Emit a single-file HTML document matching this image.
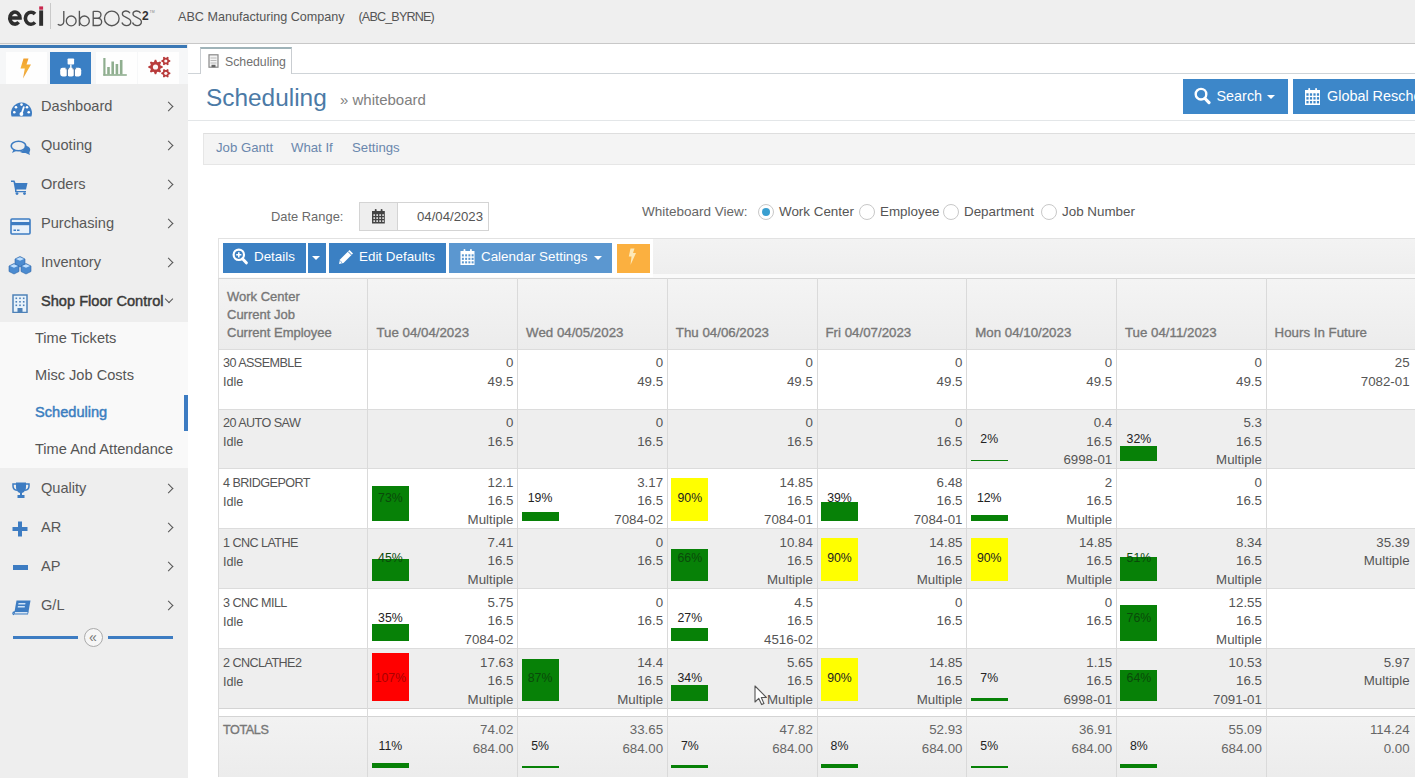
<!DOCTYPE html>
<html><head><meta charset="utf-8">
<style>
*{box-sizing:border-box;margin:0;padding:0}
html,body{width:1415px;height:778px;overflow:hidden;background:#fff;font-family:"Liberation Sans",sans-serif;color:#555}
.abs{position:absolute}
#top{position:absolute;left:0;top:0;width:1415px;height:44px;background:#efefef;border-bottom:1px solid #c8c8c8}
#side{position:absolute;left:0;top:44px;width:188px;height:734px;background:#eeeeee}
#side .bluebar{position:absolute;left:0;top:1px;width:187px;height:3px;background:#3b78b5}
.ib{position:absolute;top:8px;width:41px;height:31.5px;background:#fefefe}
.mi{position:absolute;left:0;width:188px;height:39px;font-size:14.6px;color:#555}
.mi .t{position:absolute;left:41px;top:0;line-height:39px;color:#585858}
.mi .chev{position:absolute;left:164.5px;top:16px;width:7px;height:7px;border-right:1.7px solid #555;border-top:1.7px solid #555;transform:rotate(45deg)}
.mi svg{position:absolute;left:9px}
.sub{position:absolute;left:0;top:278px;width:188px;height:146px;background:#f9f9f9}
.si{position:absolute;left:35px;font-size:14.6px;color:#555;line-height:20px}
.tb{font-size:13.4px;color:#fff;line-height:16px;white-space:nowrap}
.caret{width:0;height:0;border-left:4px solid transparent;border-right:4px solid transparent;border-top:4px solid #fff}
.rad{width:16px;height:16px;border-radius:50%;border:1px solid #c8c8c8;background:#fff}
.rad i{position:absolute;left:3px;top:3px;width:8px;height:8px;border-radius:50%;background:#3a9fd0}
.rl{font-size:13.4px;color:#555;line-height:18px;white-space:nowrap}
</style></head><body>
<div id="top">
  <svg class="abs" style="left:0;top:0" width="160" height="34" viewBox="0 0 160 34">
 <g fill="none" stroke="#2e2e2e" stroke-width="3.6">
  <path d="M9.9 18 H20 A5.1 6 0 1 0 18.6 22.2"/>
  <path d="M35 14 A5.6 6 0 1 0 35 22.4"/>
 </g>
 <rect x="39.2" y="10.4" width="3.9" height="15.4" fill="#2e2e2e"/>
 <rect x="39.2" y="6.4" width="3.9" height="3.3" fill="#c8284e"/>
 <rect x="50" y="3" width="1" height="26" fill="#c9c9c9"/>
 <g fill="none" stroke="#555" stroke-width="1.35">
  <path d="M63.8 11 V21.5 A3.6 3.6 0 0 1 57.8 24.3"/>
  <circle cx="71.2" cy="20.9" r="4.9"/>
  <path d="M79.4 10.8 V25.9"/><circle cx="84.4" cy="20.9" r="4.9"/>
  <path d="M93.2 11.3 V25.5 H98 A3.6 3.6 0 0 0 98 18.2 H93.2 M93.2 18.2 H97.5 A3.45 3.45 0 0 0 97.5 11.3 H93.2"/>
  <circle cx="111.8" cy="18.4" r="7.3"/>
  <path d="M130 13.2 C129 11.2 126.8 10.9 125.6 11 C123.5 11.2 122.3 12.6 122.4 14.2 C122.6 17.6 130.8 17.2 130.8 21.8 C130.8 24.3 128.6 25.6 126.4 25.6 C124.6 25.6 122.7 24.7 121.9 22.6"/>
  <path d="M140.6 13.2 C139.6 11.2 137.4 10.9 136.2 11 C134.1 11.2 132.9 12.6 133 14.2 C133.2 17.6 141.4 17.2 141.4 21.8 C141.4 24.3 139.2 25.6 137 25.6 C135.2 25.6 133.3 24.7 132.5 22.6"/>
 </g>
 <text x="142" y="20" font-family="Liberation Sans" font-weight="bold" font-size="12" fill="#333">2</text>
 <text x="149.5" y="12.5" font-family="Liberation Sans" font-size="3.5" fill="#888">TM</text>
</svg>
<div class="abs" style="left:178px;top:10px;font-size:12.6px;color:#555;white-space:nowrap">ABC Manufacturing Company</div><div class="abs" style="left:358.5px;top:10px;font-size:12.6px;color:#555;letter-spacing:-0.85px;white-space:nowrap">(ABC_BYRNE)</div>
</div>
<div id="side">
  <div class="bluebar"></div>
  <div class="abs" style="left:0;top:4px;width:188px;height:36px;background:#f6f7f8"></div>
  <div class="ib" style="left:6px"></div>
  <div class="ib" style="left:50px;background:#3a7fc4"></div>
  <div class="ib" style="left:96px"></div>
  <div class="ib" style="left:138px"></div>
  <div class="mi" style="top:43px"><span class="t">Dashboard</span><i class="chev"></i></div>
  <div class="mi" style="top:82px"><span class="t">Quoting</span><i class="chev"></i></div>
  <div class="mi" style="top:121px"><span class="t">Orders</span><i class="chev"></i></div>
  <div class="mi" style="top:160px"><span class="t">Purchasing</span><i class="chev"></i></div>
  <div class="mi" style="top:199px"><span class="t">Inventory</span><i class="chev"></i></div>
  <div class="mi" style="top:238px"><span class="t" style="color:#3a3a3a;-webkit-text-stroke:0.45px #3a3a3a;white-space:nowrap">Shop Floor Control</span><i class="abs" style="left:166px;top:14px;width:6px;height:6px;border-right:1.3px solid #555;border-bottom:1.3px solid #555;transform:rotate(45deg)"></i></div>
  <div class="sub">
    <div class="si" style="top:6px">Time Tickets</div>
    <div class="si" style="top:43px">Misc Job Costs</div>
    <div class="si" style="top:80px;color:#3b7ec0;-webkit-text-stroke:0.45px #3b7ec0">Scheduling</div><div class="abs" style="left:184px;top:73px;width:3.5px;height:36px;background:#3d7cc2"></div>
    <div class="si" style="top:117px">Time And Attendance</div>
  </div>
  <div class="mi" style="top:425px"><span class="t">Quality</span><i class="chev"></i></div>
  <div class="mi" style="top:464px"><span class="t">AR</span><i class="chev"></i></div>
  <div class="mi" style="top:503px"><span class="t">AP</span><i class="chev"></i></div>
  <div class="mi" style="top:542px"><span class="t">G/L</span><i class="chev"></i></div>
</div>

<div id="main" class="abs" style="left:188px;top:44px;width:1227px;height:734px;background:#fff">
  <!-- tab bar -->
  <div class="abs" style="left:0;top:29px;width:1227px;height:1px;background:#cfd4d8"></div>
  <div class="abs" style="left:12px;top:3px;width:92px;height:27px;background:#fff;border:1px solid #c9cdd1;border-top:2px solid #9fb3b8;border-bottom:none"></div>
  <div class="abs" style="left:37px;top:10.5px;font-size:12.3px;color:#707070;line-height:14px;white-space:nowrap">Scheduling</div>
  <!-- title -->
  <div class="abs" style="left:18px;top:39.5px;font-size:24.4px;color:#4b7aa6;white-space:nowrap">Scheduling</div>
  <div class="abs" style="left:152px;top:47px;font-size:15px;color:#808080;white-space:nowrap">&raquo; whiteboard</div>
  <div class="abs" style="left:0;top:76px;width:1227px;height:1px;background:#e3e6e8"></div>
  <!-- buttons -->
  <div class="abs btn" style="left:994.5px;top:35px;width:105.5px;height:34.5px;background:#3d87c9"></div>
  <div class="abs btn" style="left:1104.5px;top:35px;width:130px;height:34.5px;background:#3d87c9"></div>
  <div class="abs" style="left:1028.5px;top:43px;font-size:14.4px;color:#fff;white-space:nowrap;line-height:18px">Search</div>
  <div class="abs" style="left:1139px;top:43px;font-size:14.4px;color:#fff;white-space:nowrap;line-height:18px">Global Reschedule</div>
  <!-- nav bar -->
  <div class="abs" style="left:14.5px;top:89px;width:1213px;height:32px;background:#f4f4f4;border:1px solid #e6e6e6;border-top-color:#dedede;border-right:none"></div>
  <div class="abs" style="left:28px;top:96px;font-size:13.2px;color:#6a87ad">Job Gantt</div>
  <div class="abs" style="left:103px;top:96px;font-size:13.2px;color:#6a87ad">What If</div>
  <div class="abs" style="left:164px;top:96px;font-size:13.2px;color:#6a87ad">Settings</div>
  <!-- filters -->
  <div class="abs" style="left:83px;top:165px;font-size:12.9px;color:#6a6a6a;white-space:nowrap">Date Range:</div>
  <div class="abs" style="left:171px;top:157.5px;width:130px;height:29px;border:1px solid #d4d4d4;background:#fff"></div>
  <div class="abs" style="left:171px;top:157.5px;width:39px;height:29px;border:1px solid #d4d4d4;background:#eee"></div>
  <div class="abs" style="left:229px;top:165px;font-size:13.2px;color:#555">04/04/2023</div>
  <div class="abs" style="left:454px;top:160px;font-size:13.5px;color:#666;white-space:nowrap">Whiteboard View:</div>
  
</div>

<!-- toolbar -->
<div class="abs" style="left:217.5px;top:237.5px;width:1198px;height:41px;background:#fafafa;border-top:1px solid #e2e2e2;border-left:1px solid #e2e2e2"></div>
<div class="abs" style="left:652.5px;top:238.5px;width:763px;height:35.5px;background:linear-gradient(#f3f3f3,#eeeeee)"></div>
<div class="abs" style="left:218.5px;top:238.5px;width:434px;height:38px;background:#fff"></div>
<div class="abs" style="left:223px;top:243px;width:83px;height:30px;background:#3b80c3"></div>
<div class="abs" style="left:307.5px;top:243px;width:18px;height:30px;background:#3b80c3"></div>
<div class="abs" style="left:329px;top:243px;width:117px;height:30px;background:#3b80c3"></div>
<div class="abs" style="left:449px;top:243px;width:163px;height:30px;background:#5b97d0"></div>
<div class="abs" style="left:617px;top:243.5px;width:33px;height:29.5px;background:#fbb040"></div>
<div class="abs tb" style="left:254px;top:249px">Details</div>
<div class="abs tb" style="left:359px;top:249px">Edit Defaults</div>
<div class="abs tb" style="left:481px;top:249px">Calendar Settings</div>
<div class="abs caret" style="left:312px;top:256px"></div>
<div class="abs caret" style="left:594px;top:256px"></div>

<!-- radios -->
<div class="abs rad" style="left:757.5px;top:203.5px"><i></i></div>
<div class="abs rad" style="left:858.5px;top:203.5px"></div>
<div class="abs rad" style="left:942.5px;top:203.5px"></div>
<div class="abs rad" style="left:1041px;top:203.5px"></div>
<div class="abs rl" style="left:779px;top:203px">Work Center</div>
<div class="abs rl" style="left:880px;top:203px">Employee</div>
<div class="abs rl" style="left:964px;top:203px">Department</div>
<div class="abs rl" style="left:1062px;top:203px">Job Number</div>

<!-- sidebar icons -->
<svg class="abs" style="left:10px;top:101px" width="23" height="17" viewBox="0 0 23 17">
 <path d="M1.6 15.5 A10.5 10.5 0 1 1 21.4 15.5 Z" fill="#3d7cc2"/>
 <circle cx="4.3" cy="11.2" r="1.3" fill="#fff"/><circle cx="6" cy="6.2" r="1.3" fill="#fff"/><circle cx="11.5" cy="3.6" r="1.3" fill="#fff"/>
 <circle cx="17" cy="6.2" r="1.3" fill="#fff"/><circle cx="18.7" cy="11.2" r="1.3" fill="#fff"/>
 <path d="M11.5 13 L14 5.5" stroke="#fff" stroke-width="1.8"/><circle cx="11.4" cy="13" r="1.9" fill="#fff"/>
</svg>
<svg class="abs" style="left:10px;top:140px" width="22" height="16" viewBox="0 0 22 16">
 <ellipse cx="8.5" cy="6" rx="7.3" ry="4.8" fill="none" stroke="#3d7cc2" stroke-width="1.6"/>
 <path d="M3.5 9.5 L2 13 L7 10.6" fill="#3d7cc2"/>
 <path d="M14.5 5.5 C19 6 21 8.5 20 11 C19.5 12 19 12.5 20 15 L15.5 13 C13 13.3 10 12.5 9.5 11.5 C13 11.5 15.5 9 14.5 5.5Z" fill="#3d7cc2"/>
</svg>
<svg class="abs" style="left:11px;top:179px" width="17" height="16" viewBox="0 0 17 16">
 <path d="M0 1.5 H3.5 L4.5 4 H16.5 L15 10.5 H5.5 L5.5 12 H15 V13.3 H4 L4 11 L2.5 3 H0Z" fill="#3d7cc2"/>
 <circle cx="6" cy="14.6" r="1.4" fill="#3d7cc2"/><circle cx="13.5" cy="14.6" r="1.4" fill="#3d7cc2"/>
</svg>
<svg class="abs" style="left:10px;top:217.5px" width="21" height="17" viewBox="0 0 21 17">
 <rect x="1" y="1" width="19" height="15" rx="1" fill="#e8f1fa" stroke="#3d7cc2" stroke-width="1.6"/>
 <rect x="1" y="4" width="19" height="3.2" fill="#3d7cc2"/>
 <rect x="3.5" y="11.5" width="2.5" height="1.5" fill="#3d7cc2"/><rect x="7" y="11.5" width="2.5" height="1.5" fill="#3d7cc2"/>
</svg>
<svg class="abs" style="left:8px;top:254.5px" width="24" height="20" viewBox="0 0 24 20">
 <g stroke="#2f67a8" stroke-width="0.6">
 <path d="M7 4 L12 1.5 L17 4 L17 9.5 L12 12 L7 9.5Z" fill="#4b8bd0"/>
 <path d="M1 11 L6 8.5 L11 11 L11 16.5 L6 19 L1 16.5Z" fill="#4b8bd0"/>
 <path d="M13 11 L18 8.5 L23 11 L23 16.5 L18 19 L13 16.5Z" fill="#4b8bd0"/>
 </g>
 <path d="M8 4 L12 2.2 L16 4 L12 5.8Z M2 11 L6 9.2 L10 11 L6 12.8Z M14 11 L18 9.2 L22 11 L18 12.8Z" fill="#bfe0ff"/>
</svg>
<svg class="abs" style="left:12px;top:294px" width="16" height="19" viewBox="0 0 16 19">
 <rect x="1" y="1" width="14" height="17.5" fill="#e9f3fb" stroke="#4f82b8" stroke-width="1.5"/>
 <g fill="#4f82b8"><rect x="3.5" y="3.5" width="1.6" height="1.6"/><rect x="7.2" y="3.5" width="1.6" height="1.6"/><rect x="10.9" y="3.5" width="1.6" height="1.6"/>
 <rect x="3.5" y="7" width="1.6" height="1.6"/><rect x="7.2" y="7" width="1.6" height="1.6"/><rect x="10.9" y="7" width="1.6" height="1.6"/>
 <rect x="3.5" y="10.5" width="1.6" height="1.6"/><rect x="7.2" y="10.5" width="1.6" height="1.6"/><rect x="10.9" y="10.5" width="1.6" height="1.6"/>
 <rect x="5.5" y="14" width="5" height="4.5"/></g>
</svg>
<svg class="abs" style="left:11.5px;top:482px" width="18" height="17" viewBox="0 0 18 17">
 <path d="M4 0.5 H14 V5 C14 9 11.5 10.5 10 11 V13 H12.5 V16 H5.5 V13 H8 V11 C6.5 10.5 4 9 4 5Z" fill="#3d7cc2"/>
 <path d="M4 2 H1 V4 C1 6.5 3 8 5 8.3 M14 2 H17 V4 C17 6.5 15 8 13 8.3" fill="none" stroke="#3d7cc2" stroke-width="1.5"/>
</svg>
<svg class="abs" style="left:12px;top:520.5px" width="16" height="16" viewBox="0 0 16 16">
 <path d="M6 0.5 H10 V6 H15.5 V10 H10 V15.5 H6 V10 H0.5 V6 H6Z" fill="#3d7cc2"/>
</svg>
<div class="abs" style="left:12.5px;top:564.5px;width:15.5px;height:5px;background:#3d7cc2"></div>
<svg class="abs" style="left:11.5px;top:599.5px" width="20" height="16" viewBox="0 0 20 16">
 <path d="M4.5 0.5 H18.5 L16 14.5 H2 Z" fill="#3d7cc2"/>
 <path d="M2 14.5 C0.5 14.5 0.5 12 2.3 12 H16.3" fill="none" stroke="#3d7cc2" stroke-width="1.3"/>
 <path d="M3 12.8 H15.5" stroke="#fff" stroke-width="1.2"/>
 <rect x="7" y="3" width="7" height="1.5" fill="#cfe3f7" transform="skewX(-10)"/><rect x="7" y="6" width="7" height="1.5" fill="#cfe3f7" transform="skewX(-10)"/>
</svg>

<!-- top icon buttons -->
<svg class="abs" style="left:19px;top:57.5px" width="13" height="21" viewBox="0 0 13 21">
 <defs><linearGradient id="lg1" x1="0" y1="0" x2="0" y2="1"><stop offset="0" stop-color="#f0a030"/><stop offset="0.5" stop-color="#f6b33a"/><stop offset="1" stop-color="#e8a040"/></linearGradient></defs>
 <path d="M4.5 0.5 L9.5 0.5 L7.5 6.5 L12 6.5 L4 20.5 L5.8 10.5 L1.5 10.5 Z" fill="url(#lg1)"/>
</svg>
<svg class="abs" style="left:50px;top:52px" width="41" height="32" viewBox="0 0 41 32">
 <rect x="17.6" y="6.5" width="6.5" height="6" rx="0.8" fill="#fff"/>
 <path d="M20.85 12.5 V16" stroke="#fff" stroke-width="1.4"/>
 <rect x="10.2" y="15.8" width="7.4" height="8.6" rx="2.4" fill="#fff"/><rect x="17" y="15.8" width="7.4" height="8.6" rx="2.4" fill="#fff"/><rect x="23.8" y="15.8" width="7.4" height="8.6" rx="2.4" fill="#fff"/>
 <path d="M17.3 16.6 V24 M24.3 16.6 V24 M15.5 16.8 H19.1 M22.5 16.8 H26.1" stroke="#35659a" stroke-width="1.1"/>
</svg>
<svg class="abs" style="left:102px;top:57px" width="26" height="20" viewBox="0 0 26 20">
 <g fill="#8fae8f"><rect x="1.3" y="1" width="2.2" height="17.5"/><rect x="5.2" y="10" width="2.6" height="7.5"/><rect x="9.4" y="4.5" width="2.6" height="13"/><rect x="13.6" y="7" width="2.6" height="10.5"/><rect x="17.9" y="3" width="2.6" height="14.5"/><rect x="1.3" y="17.2" width="23.5" height="1.6"/></g>
</svg>
<svg class="abs" style="left:138px;top:52px" width="42" height="32" viewBox="0 0 42 32"><path d="M24.67 14.29 L24.67 15.71 L22.57 16.54 L22.17 17.50 L23.07 19.57 L22.07 20.57 L20.00 19.67 L19.04 20.07 L18.21 22.17 L16.79 22.17 L15.96 20.07 L15.00 19.67 L12.93 20.57 L11.93 19.57 L12.83 17.50 L12.43 16.54 L10.33 15.71 L10.33 14.29 L12.43 13.46 L12.83 12.50 L11.93 10.43 L12.93 9.43 L15.00 10.33 L15.96 9.93 L16.79 7.83 L18.21 7.83 L19.04 9.93 L20.00 10.33 L22.07 9.43 L23.07 10.43 L22.17 12.50 L22.57 13.46Z" fill="#b83a3a"/><circle cx="17.5" cy="15" r="2.6" fill="#fbf5f5"/><path d="M32.36 8.40 L32.36 9.60 L30.85 10.26 L30.42 11.01 L30.60 12.65 L29.56 13.25 L28.23 12.27 L27.37 12.27 L26.04 13.25 L25.00 12.65 L25.18 11.01 L24.75 10.26 L23.24 9.60 L23.24 8.40 L24.75 7.74 L25.18 6.99 L25.00 5.35 L26.04 4.75 L27.37 5.73 L28.23 5.73 L29.56 4.75 L30.60 5.35 L30.42 6.99 L30.85 7.74Z" fill="#b83a3a"/><circle cx="27.80000000000001" cy="9" r="1.6" fill="#fbf5f5"/><path d="M32.36 20.70 L32.36 21.90 L30.85 22.56 L30.42 23.31 L30.60 24.95 L29.56 25.55 L28.23 24.57 L27.37 24.57 L26.04 25.55 L25.00 24.95 L25.18 23.31 L24.75 22.56 L23.24 21.90 L23.24 20.70 L24.75 20.04 L25.18 19.29 L25.00 17.65 L26.04 17.05 L27.37 18.03 L28.23 18.03 L29.56 17.05 L30.60 17.65 L30.42 19.29 L30.85 20.04Z" fill="#b83a3a"/><circle cx="27.80000000000001" cy="21.299999999999997" r="1.6" fill="#fbf5f5"/></svg>

<!-- collapse -->
<div class="abs" style="left:12.5px;top:635.5px;width:65px;height:3px;background:#3d7cc2"></div>
<div class="abs" style="left:108px;top:635.5px;width:65px;height:3px;background:#3d7cc2"></div>
<div class="abs" style="left:83.5px;top:628px;width:19px;height:19px;border-radius:50%;border:1px solid #aaa;background:#f6f6f6"></div>
<div class="abs" style="left:83.5px;top:628px;width:19px;height:19px;text-align:center;line-height:18px;font-size:14px;color:#777">&laquo;</div>

<!-- date cal icon -->
<svg class="abs" style="left:0;top:0;overflow:visible" width="1" height="1"><rect x="372" y="211" width="12.8" height="12.5" fill="#444"/><rect x="373.40" y="214.30" width="1.65" height="1.60" fill="#eee"/><rect x="376.35" y="214.30" width="1.65" height="1.60" fill="#eee"/><rect x="379.30" y="214.30" width="1.65" height="1.60" fill="#eee"/><rect x="382.25" y="214.30" width="1.65" height="1.60" fill="#eee"/><rect x="373.40" y="217.30" width="1.65" height="1.60" fill="#eee"/><rect x="376.35" y="217.30" width="1.65" height="1.60" fill="#eee"/><rect x="379.30" y="217.30" width="1.65" height="1.60" fill="#eee"/><rect x="382.25" y="217.30" width="1.65" height="1.60" fill="#eee"/><rect x="373.40" y="220.30" width="1.65" height="1.60" fill="#eee"/><rect x="376.35" y="220.30" width="1.65" height="1.60" fill="#eee"/><rect x="379.30" y="220.30" width="1.65" height="1.60" fill="#eee"/><rect x="382.25" y="220.30" width="1.65" height="1.60" fill="#eee"/><rect x="374.82" y="209" width="1.8" height="3" rx="0.8" fill="#444"/><rect x="380.70" y="209" width="1.8" height="3" rx="0.8" fill="#444"/></svg>
<!-- toolbar cal -->
<svg class="abs" style="left:0;top:0;overflow:visible" width="1" height="1"><rect x="460.5" y="251" width="14" height="14" fill="#fff"/><rect x="461.90" y="254.30" width="1.95" height="2.10" fill="#5b97d0"/><rect x="465.15" y="254.30" width="1.95" height="2.10" fill="#5b97d0"/><rect x="468.40" y="254.30" width="1.95" height="2.10" fill="#5b97d0"/><rect x="471.65" y="254.30" width="1.95" height="2.10" fill="#5b97d0"/><rect x="461.90" y="257.80" width="1.95" height="2.10" fill="#5b97d0"/><rect x="465.15" y="257.80" width="1.95" height="2.10" fill="#5b97d0"/><rect x="468.40" y="257.80" width="1.95" height="2.10" fill="#5b97d0"/><rect x="471.65" y="257.80" width="1.95" height="2.10" fill="#5b97d0"/><rect x="461.90" y="261.30" width="1.95" height="2.10" fill="#5b97d0"/><rect x="465.15" y="261.30" width="1.95" height="2.10" fill="#5b97d0"/><rect x="468.40" y="261.30" width="1.95" height="2.10" fill="#5b97d0"/><rect x="471.65" y="261.30" width="1.95" height="2.10" fill="#5b97d0"/><rect x="463.58" y="249" width="1.8" height="3" rx="0.8" fill="#fff"/><rect x="470.02" y="249" width="1.8" height="3" rx="0.8" fill="#fff"/></svg>
<!-- global resched cal -->
<svg class="abs" style="left:0;top:0;overflow:visible" width="1" height="1"><rect x="1305" y="90" width="15" height="15" fill="#fff"/><rect x="1306.40" y="93.30" width="2.20" height="2.43" fill="#3d87c9"/><rect x="1309.90" y="93.30" width="2.20" height="2.43" fill="#3d87c9"/><rect x="1313.40" y="93.30" width="2.20" height="2.43" fill="#3d87c9"/><rect x="1316.90" y="93.30" width="2.20" height="2.43" fill="#3d87c9"/><rect x="1306.40" y="97.13" width="2.20" height="2.43" fill="#3d87c9"/><rect x="1309.90" y="97.13" width="2.20" height="2.43" fill="#3d87c9"/><rect x="1313.40" y="97.13" width="2.20" height="2.43" fill="#3d87c9"/><rect x="1316.90" y="97.13" width="2.20" height="2.43" fill="#3d87c9"/><rect x="1306.40" y="100.97" width="2.20" height="2.43" fill="#3d87c9"/><rect x="1309.90" y="100.97" width="2.20" height="2.43" fill="#3d87c9"/><rect x="1313.40" y="100.97" width="2.20" height="2.43" fill="#3d87c9"/><rect x="1316.90" y="100.97" width="2.20" height="2.43" fill="#3d87c9"/><rect x="1308.30" y="88" width="1.8" height="3" rx="0.8" fill="#fff"/><rect x="1315.20" y="88" width="1.8" height="3" rx="0.8" fill="#fff"/></svg>
<!-- details magnifier plus -->
<svg class="abs" style="left:232px;top:248px" width="16" height="17" viewBox="0 0 16 17">
 <circle cx="6.8" cy="6.8" r="5.2" fill="none" stroke="#fff" stroke-width="2.2"/>
 <path d="M10.5 10.8 L14.3 14.8" stroke="#fff" stroke-width="3" stroke-linecap="round"/>
 <path d="M6.8 4.2 V9.4 M4.2 6.8 H9.4" stroke="#fff" stroke-width="1.6"/>
</svg>
<!-- pencil -->
<svg class="abs" style="left:338px;top:249px" width="16" height="16" viewBox="0 0 16 16">
 <path d="M11.5 1 L15 4.5 L5.5 14 L1 15 L2 10.5 Z" fill="#fff"/>
 <path d="M10 2.5 L13.5 6" stroke="#3b80c3" stroke-width="1"/>
 <path d="M2.3 12 L4 13.7" stroke="#3b80c3" stroke-width="0.8"/>
</svg>
<!-- orange lightning -->
<svg class="abs" style="left:627px;top:248px" width="10" height="18" viewBox="0 0 10 18">
 <path d="M3.5 0.5 H7.5 L6 5 H9 L3.5 17 L4.5 8.5 H1.8 Z" fill="#fde9b8"/>
</svg>
<!-- search magnifier -->
<svg class="abs" style="left:1194px;top:87px" width="17" height="18" viewBox="0 0 17 18">
 <circle cx="7" cy="7.2" r="5.3" fill="none" stroke="#fff" stroke-width="2.4"/>
 <path d="M11 11.5 L15 15.6" stroke="#fff" stroke-width="3.2" stroke-linecap="round"/>
</svg>
<div class="abs caret" style="left:1267px;top:95px"></div>
<!-- tab icon -->
<svg class="abs" style="left:208px;top:54px" width="11" height="14" viewBox="0 0 11 14">
 <rect x="1" y="0.8" width="9" height="12.4" fill="#f3f3f3" stroke="#888" stroke-width="1.2"/>
 <path d="M2.5 4 H8.5 M2.5 6.5 H8.5 M2.5 9 H8.5" stroke="#aaa" stroke-width="0.8"/>
 <rect x="3.5" y="10.8" width="4" height="2.4" fill="#666"/>
</svg>
<div class="abs " style="left:217.5px;top:277.5px;width:1197.5px;height:71.0px;background:linear-gradient(#f4f4f4,#ececec);border-top:1px solid #d6d6d6"></div>
<div class="abs " style="left:227px;top:287.5px;font-size:13px;-webkit-text-stroke:0.35px #777;color:#777;line-height:18px;white-space:nowrap">Work Center</div>
<div class="abs " style="left:227px;top:305.5px;font-size:13px;-webkit-text-stroke:0.35px #777;color:#777;line-height:18px;white-space:nowrap">Current Job</div>
<div class="abs " style="left:227px;top:323.5px;font-size:13px;-webkit-text-stroke:0.35px #777;color:#777;line-height:18px;white-space:nowrap">Current Employee</div>
<div class="abs " style="left:376.4px;top:323.5px;font-size:13.3px;-webkit-text-stroke:0.35px #777;color:#777;line-height:18px;white-space:nowrap">Tue 04/04/2023</div>
<div class="abs " style="left:526.0999999999999px;top:323.5px;font-size:13.3px;-webkit-text-stroke:0.35px #777;color:#777;line-height:18px;white-space:nowrap">Wed 04/05/2023</div>
<div class="abs " style="left:675.8px;top:323.5px;font-size:13.3px;-webkit-text-stroke:0.35px #777;color:#777;line-height:18px;white-space:nowrap">Thu 04/06/2023</div>
<div class="abs " style="left:825.5px;top:323.5px;font-size:13.3px;-webkit-text-stroke:0.35px #777;color:#777;line-height:18px;white-space:nowrap">Fri 04/07/2023</div>
<div class="abs " style="left:975.1999999999999px;top:323.5px;font-size:13.3px;-webkit-text-stroke:0.35px #777;color:#777;line-height:18px;white-space:nowrap">Mon 04/10/2023</div>
<div class="abs " style="left:1124.9px;top:323.5px;font-size:13.3px;-webkit-text-stroke:0.35px #777;color:#777;line-height:18px;white-space:nowrap">Tue 04/11/2023</div>
<div class="abs " style="left:1274.6px;top:323.5px;font-size:13.3px;-webkit-text-stroke:0.35px #777;color:#777;line-height:18px;white-space:nowrap">Hours In Future</div>
<div class="abs " style="left:217.5px;top:348.5px;width:1197.5px;height:60.0px;background:#fff;border-top:1px solid #dcdcdc"></div>
<div class="abs " style="left:223px;top:354.0px;font-size:12.6px;color:#555;line-height:19.2px;white-space:nowrap"><span style="letter-spacing:-0.55px">30 ASSEMBLE</span><br>Idle</div>
<div class="abs " style="left:367.4px;top:354.3px;width:146px;text-align:right;font-size:13.3px;color:#555;line-height:18.6px">0<br>49.5</div>
<div class="abs " style="left:517.0999999999999px;top:354.3px;width:146px;text-align:right;font-size:13.3px;color:#555;line-height:18.6px">0<br>49.5</div>
<div class="abs " style="left:666.8px;top:354.3px;width:146px;text-align:right;font-size:13.3px;color:#555;line-height:18.6px">0<br>49.5</div>
<div class="abs " style="left:816.5px;top:354.3px;width:146px;text-align:right;font-size:13.3px;color:#555;line-height:18.6px">0<br>49.5</div>
<div class="abs " style="left:966.1999999999999px;top:354.3px;width:146px;text-align:right;font-size:13.3px;color:#555;line-height:18.6px">0<br>49.5</div>
<div class="abs " style="left:1115.9px;top:354.3px;width:146px;text-align:right;font-size:13.3px;color:#555;line-height:18.6px">0<br>49.5</div>
<div class="abs " style="left:1265.6px;top:354.3px;width:144px;text-align:right;font-size:13.3px;color:#555;line-height:18.6px">25<br>7082-01</div>
<div class="abs " style="left:217.5px;top:408.5px;width:1197.5px;height:59.5px;background:#eeeeee;border-top:1px solid #dcdcdc"></div>
<div class="abs " style="left:223px;top:414.0px;font-size:12.6px;color:#555;line-height:19.2px;white-space:nowrap"><span style="letter-spacing:-0.55px">20 AUTO SAW</span><br>Idle</div>
<div class="abs " style="left:367.4px;top:414.3px;width:146px;text-align:right;font-size:13.3px;color:#555;line-height:18.6px">0<br>16.5</div>
<div class="abs " style="left:517.0999999999999px;top:414.3px;width:146px;text-align:right;font-size:13.3px;color:#555;line-height:18.6px">0<br>16.5</div>
<div class="abs " style="left:666.8px;top:414.3px;width:146px;text-align:right;font-size:13.3px;color:#555;line-height:18.6px">0<br>16.5</div>
<div class="abs " style="left:816.5px;top:414.3px;width:146px;text-align:right;font-size:13.3px;color:#555;line-height:18.6px">0<br>16.5</div>
<div class="abs " style="left:970.6999999999999px;top:460.0px;width:37px;height:1px;background:#078107"></div>
<div class="abs " style="left:970.6999999999999px;top:429.5px;width:37px;text-align:center;font-size:12.3px;color:#222;line-height:18px">2%</div>
<div class="abs " style="left:966.1999999999999px;top:414.3px;width:146px;text-align:right;font-size:13.3px;color:#555;line-height:18.6px">0.4<br>16.5<br>6998-01</div>
<div class="abs " style="left:1120.4px;top:446.0px;width:37px;height:15px;background:#078107"></div>
<div class="abs " style="left:1120.4px;top:429.5px;width:37px;text-align:center;font-size:12.3px;color:#222;line-height:18px">32%</div>
<div class="abs " style="left:1115.9px;top:414.3px;width:146px;text-align:right;font-size:13.3px;color:#555;line-height:18.6px">5.3<br>16.5<br>Multiple</div>
<div class="abs " style="left:217.5px;top:468px;width:1197.5px;height:60px;background:#fff;border-top:1px solid #dcdcdc"></div>
<div class="abs " style="left:223px;top:473.5px;font-size:12.6px;color:#555;line-height:19.2px;white-space:nowrap"><span style="letter-spacing:-0.55px">4 BRIDGEPORT</span><br>Idle</div>
<div class="abs " style="left:371.9px;top:485.5px;width:37px;height:35px;background:#078107"></div>
<div class="abs " style="left:371.9px;top:489px;width:37px;text-align:center;font-size:12.3px;color:#0a4a0a;line-height:18px">73%</div>
<div class="abs " style="left:367.4px;top:473.8px;width:146px;text-align:right;font-size:13.3px;color:#555;line-height:18.6px">12.1<br>16.5<br>Multiple</div>
<div class="abs " style="left:521.5999999999999px;top:511.5px;width:37px;height:9px;background:#078107"></div>
<div class="abs " style="left:521.5999999999999px;top:489px;width:37px;text-align:center;font-size:12.3px;color:#222;line-height:18px">19%</div>
<div class="abs " style="left:517.0999999999999px;top:473.8px;width:146px;text-align:right;font-size:13.3px;color:#555;line-height:18.6px">3.17<br>16.5<br>7084-02</div>
<div class="abs " style="left:671.3px;top:477.5px;width:37px;height:43px;background:#ffff00"></div>
<div class="abs " style="left:671.3px;top:489px;width:37px;text-align:center;font-size:12.3px;color:#222;line-height:18px">90%</div>
<div class="abs " style="left:666.8px;top:473.8px;width:146px;text-align:right;font-size:13.3px;color:#555;line-height:18.6px">14.85<br>16.5<br>7084-01</div>
<div class="abs " style="left:821.0px;top:501.5px;width:37px;height:19px;background:#078107"></div>
<div class="abs " style="left:821.0px;top:489px;width:37px;text-align:center;font-size:12.3px;color:#222;line-height:18px">39%</div>
<div class="abs " style="left:816.5px;top:473.8px;width:146px;text-align:right;font-size:13.3px;color:#555;line-height:18.6px">6.48<br>16.5<br>7084-01</div>
<div class="abs " style="left:970.6999999999999px;top:514.5px;width:37px;height:6px;background:#078107"></div>
<div class="abs " style="left:970.6999999999999px;top:489px;width:37px;text-align:center;font-size:12.3px;color:#222;line-height:18px">12%</div>
<div class="abs " style="left:966.1999999999999px;top:473.8px;width:146px;text-align:right;font-size:13.3px;color:#555;line-height:18.6px">2<br>16.5<br>Multiple</div>
<div class="abs " style="left:1115.9px;top:473.8px;width:146px;text-align:right;font-size:13.3px;color:#555;line-height:18.6px">0<br>16.5</div>
<div class="abs " style="left:217.5px;top:528px;width:1197.5px;height:60px;background:#eeeeee;border-top:1px solid #dcdcdc"></div>
<div class="abs " style="left:223px;top:533.5px;font-size:12.6px;color:#555;line-height:19.2px;white-space:nowrap"><span style="letter-spacing:-0.55px">1 CNC LATHE</span><br>Idle</div>
<div class="abs " style="left:371.9px;top:558.5px;width:37px;height:22px;background:#078107"></div>
<div class="abs " style="left:371.9px;top:549px;width:37px;text-align:center;font-size:12.3px;color:#0a4a0a;line-height:18px">45%</div>
<div class="abs " style="left:367.4px;top:533.8px;width:146px;text-align:right;font-size:13.3px;color:#555;line-height:18.6px">7.41<br>16.5<br>Multiple</div>
<div class="abs " style="left:517.0999999999999px;top:533.8px;width:146px;text-align:right;font-size:13.3px;color:#555;line-height:18.6px">0<br>16.5</div>
<div class="abs " style="left:671.3px;top:548.5px;width:37px;height:32px;background:#078107"></div>
<div class="abs " style="left:671.3px;top:549px;width:37px;text-align:center;font-size:12.3px;color:#0a4a0a;line-height:18px">66%</div>
<div class="abs " style="left:666.8px;top:533.8px;width:146px;text-align:right;font-size:13.3px;color:#555;line-height:18.6px">10.84<br>16.5<br>Multiple</div>
<div class="abs " style="left:821.0px;top:537.5px;width:37px;height:43px;background:#ffff00"></div>
<div class="abs " style="left:821.0px;top:549px;width:37px;text-align:center;font-size:12.3px;color:#222;line-height:18px">90%</div>
<div class="abs " style="left:816.5px;top:533.8px;width:146px;text-align:right;font-size:13.3px;color:#555;line-height:18.6px">14.85<br>16.5<br>Multiple</div>
<div class="abs " style="left:970.6999999999999px;top:537.5px;width:37px;height:43px;background:#ffff00"></div>
<div class="abs " style="left:970.6999999999999px;top:549px;width:37px;text-align:center;font-size:12.3px;color:#222;line-height:18px">90%</div>
<div class="abs " style="left:966.1999999999999px;top:533.8px;width:146px;text-align:right;font-size:13.3px;color:#555;line-height:18.6px">14.85<br>16.5<br>Multiple</div>
<div class="abs " style="left:1120.4px;top:556.5px;width:37px;height:24px;background:#078107"></div>
<div class="abs " style="left:1120.4px;top:549px;width:37px;text-align:center;font-size:12.3px;color:#0a4a0a;line-height:18px">51%</div>
<div class="abs " style="left:1115.9px;top:533.8px;width:146px;text-align:right;font-size:13.3px;color:#555;line-height:18.6px">8.34<br>16.5<br>Multiple</div>
<div class="abs " style="left:1265.6px;top:533.8px;width:144px;text-align:right;font-size:13.3px;color:#555;line-height:18.6px">35.39<br>Multiple</div>
<div class="abs " style="left:217.5px;top:588px;width:1197.5px;height:60px;background:#fff;border-top:1px solid #dcdcdc"></div>
<div class="abs " style="left:223px;top:593.5px;font-size:12.6px;color:#555;line-height:19.2px;white-space:nowrap"><span style="letter-spacing:-0.55px">3 CNC MILL</span><br>Idle</div>
<div class="abs " style="left:371.9px;top:623.5px;width:37px;height:17px;background:#078107"></div>
<div class="abs " style="left:371.9px;top:609px;width:37px;text-align:center;font-size:12.3px;color:#222;line-height:18px">35%</div>
<div class="abs " style="left:367.4px;top:593.8px;width:146px;text-align:right;font-size:13.3px;color:#555;line-height:18.6px">5.75<br>16.5<br>7084-02</div>
<div class="abs " style="left:517.0999999999999px;top:593.8px;width:146px;text-align:right;font-size:13.3px;color:#555;line-height:18.6px">0<br>16.5</div>
<div class="abs " style="left:671.3px;top:627.5px;width:37px;height:13px;background:#078107"></div>
<div class="abs " style="left:671.3px;top:609px;width:37px;text-align:center;font-size:12.3px;color:#222;line-height:18px">27%</div>
<div class="abs " style="left:666.8px;top:593.8px;width:146px;text-align:right;font-size:13.3px;color:#555;line-height:18.6px">4.5<br>16.5<br>4516-02</div>
<div class="abs " style="left:816.5px;top:593.8px;width:146px;text-align:right;font-size:13.3px;color:#555;line-height:18.6px">0<br>16.5</div>
<div class="abs " style="left:966.1999999999999px;top:593.8px;width:146px;text-align:right;font-size:13.3px;color:#555;line-height:18.6px">0<br>16.5</div>
<div class="abs " style="left:1120.4px;top:604.5px;width:37px;height:36px;background:#078107"></div>
<div class="abs " style="left:1120.4px;top:609px;width:37px;text-align:center;font-size:12.3px;color:#0a4a0a;line-height:18px">76%</div>
<div class="abs " style="left:1115.9px;top:593.8px;width:146px;text-align:right;font-size:13.3px;color:#555;line-height:18.6px">12.55<br>16.5<br>Multiple</div>
<div class="abs " style="left:217.5px;top:648px;width:1197.5px;height:60px;background:#eeeeee;border-top:1px solid #dcdcdc"></div>
<div class="abs " style="left:223px;top:653.5px;font-size:12.6px;color:#555;line-height:19.2px;white-space:nowrap"><span style="letter-spacing:-0.55px">2 CNCLATHE2</span><br>Idle</div>
<div class="abs " style="left:371.9px;top:652.5px;width:37px;height:48px;background:#ff0000"></div>
<div class="abs " style="left:371.9px;top:669px;width:37px;text-align:center;font-size:12.3px;color:#a00;line-height:18px">107%</div>
<div class="abs " style="left:367.4px;top:653.8px;width:146px;text-align:right;font-size:13.3px;color:#555;line-height:18.6px">17.63<br>16.5<br>Multiple</div>
<div class="abs " style="left:521.5999999999999px;top:658.5px;width:37px;height:42px;background:#078107"></div>
<div class="abs " style="left:521.5999999999999px;top:669px;width:37px;text-align:center;font-size:12.3px;color:#0a4a0a;line-height:18px">87%</div>
<div class="abs " style="left:517.0999999999999px;top:653.8px;width:146px;text-align:right;font-size:13.3px;color:#555;line-height:18.6px">14.4<br>16.5<br>Multiple</div>
<div class="abs " style="left:671.3px;top:684.5px;width:37px;height:16px;background:#078107"></div>
<div class="abs " style="left:671.3px;top:669px;width:37px;text-align:center;font-size:12.3px;color:#222;line-height:18px">34%</div>
<div class="abs " style="left:666.8px;top:653.8px;width:146px;text-align:right;font-size:13.3px;color:#555;line-height:18.6px">5.65<br>16.5<br>Multiple</div>
<div class="abs " style="left:821.0px;top:657.5px;width:37px;height:43px;background:#ffff00"></div>
<div class="abs " style="left:821.0px;top:669px;width:37px;text-align:center;font-size:12.3px;color:#222;line-height:18px">90%</div>
<div class="abs " style="left:816.5px;top:653.8px;width:146px;text-align:right;font-size:13.3px;color:#555;line-height:18.6px">14.85<br>16.5<br>Multiple</div>
<div class="abs " style="left:970.6999999999999px;top:697.5px;width:37px;height:3px;background:#078107"></div>
<div class="abs " style="left:970.6999999999999px;top:669px;width:37px;text-align:center;font-size:12.3px;color:#222;line-height:18px">7%</div>
<div class="abs " style="left:966.1999999999999px;top:653.8px;width:146px;text-align:right;font-size:13.3px;color:#555;line-height:18.6px">1.15<br>16.5<br>6998-01</div>
<div class="abs " style="left:1120.4px;top:669.5px;width:37px;height:31px;background:#078107"></div>
<div class="abs " style="left:1120.4px;top:669px;width:37px;text-align:center;font-size:12.3px;color:#0a4a0a;line-height:18px">64%</div>
<div class="abs " style="left:1115.9px;top:653.8px;width:146px;text-align:right;font-size:13.3px;color:#555;line-height:18.6px">10.53<br>16.5<br>7091-01</div>
<div class="abs " style="left:1265.6px;top:653.8px;width:144px;text-align:right;font-size:13.3px;color:#555;line-height:18.6px">5.97<br>Multiple</div>
<div class="abs " style="left:217.5px;top:708px;width:1197.5px;height:7.5px;background:#fff;border-top:1px solid #d4d4d4"></div>
<div class="abs " style="left:217.5px;top:715.5px;width:1197.5px;height:61.5px;background:linear-gradient(#f2f2f2,#ececec);border-top:1px solid #d4d4d4"></div>
<div class="abs " style="left:223px;top:720.5px;font-size:12.6px;color:#777;-webkit-text-stroke:0.35px #777;letter-spacing:-0.4px;line-height:18.6px">TOTALS</div>
<div class="abs " style="left:371.9px;top:763.0px;width:37px;height:5px;background:#078107"></div>
<div class="abs " style="left:371.9px;top:736.5px;width:37px;text-align:center;font-size:12.3px;color:#222;line-height:18px">11%</div>
<div class="abs " style="left:367.4px;top:721.3px;width:146px;text-align:right;font-size:13.3px;color:#666;line-height:18.6px">74.02<br>684.00</div>
<div class="abs " style="left:521.5999999999999px;top:766.0px;width:37px;height:2px;background:#078107"></div>
<div class="abs " style="left:521.5999999999999px;top:736.5px;width:37px;text-align:center;font-size:12.3px;color:#222;line-height:18px">5%</div>
<div class="abs " style="left:517.0999999999999px;top:721.3px;width:146px;text-align:right;font-size:13.3px;color:#666;line-height:18.6px">33.65<br>684.00</div>
<div class="abs " style="left:671.3px;top:765.0px;width:37px;height:3px;background:#078107"></div>
<div class="abs " style="left:671.3px;top:736.5px;width:37px;text-align:center;font-size:12.3px;color:#222;line-height:18px">7%</div>
<div class="abs " style="left:666.8px;top:721.3px;width:146px;text-align:right;font-size:13.3px;color:#666;line-height:18.6px">47.82<br>684.00</div>
<div class="abs " style="left:821.0px;top:764.0px;width:37px;height:4px;background:#078107"></div>
<div class="abs " style="left:821.0px;top:736.5px;width:37px;text-align:center;font-size:12.3px;color:#222;line-height:18px">8%</div>
<div class="abs " style="left:816.5px;top:721.3px;width:146px;text-align:right;font-size:13.3px;color:#666;line-height:18.6px">52.93<br>684.00</div>
<div class="abs " style="left:970.6999999999999px;top:766.0px;width:37px;height:2px;background:#078107"></div>
<div class="abs " style="left:970.6999999999999px;top:736.5px;width:37px;text-align:center;font-size:12.3px;color:#222;line-height:18px">5%</div>
<div class="abs " style="left:966.1999999999999px;top:721.3px;width:146px;text-align:right;font-size:13.3px;color:#666;line-height:18.6px">36.91<br>684.00</div>
<div class="abs " style="left:1120.4px;top:764.0px;width:37px;height:4px;background:#078107"></div>
<div class="abs " style="left:1120.4px;top:736.5px;width:37px;text-align:center;font-size:12.3px;color:#222;line-height:18px">8%</div>
<div class="abs " style="left:1115.9px;top:721.3px;width:146px;text-align:right;font-size:13.3px;color:#666;line-height:18.6px">55.09<br>684.00</div>
<div class="abs " style="left:1265.6px;top:721.3px;width:144px;text-align:right;font-size:13.3px;color:#666;line-height:18.6px">114.24<br>0.00</div>
<div class="abs " style="left:217.5px;top:277.5px;width:1px;height:499.5px;background:#dadada"></div>
<div class="abs " style="left:367.4px;top:277.5px;width:1px;height:499.5px;background:#dadada"></div>
<div class="abs " style="left:517.0999999999999px;top:277.5px;width:1px;height:499.5px;background:#dadada"></div>
<div class="abs " style="left:666.8px;top:277.5px;width:1px;height:499.5px;background:#dadada"></div>
<div class="abs " style="left:816.5px;top:277.5px;width:1px;height:499.5px;background:#dadada"></div>
<div class="abs " style="left:966.1999999999999px;top:277.5px;width:1px;height:499.5px;background:#dadada"></div>
<div class="abs " style="left:1115.9px;top:277.5px;width:1px;height:499.5px;background:#dadada"></div>
<div class="abs " style="left:1265.6px;top:277.5px;width:1px;height:499.5px;background:#dadada"></div>

<!-- cursor -->
<svg class="abs" style="left:754px;top:684.5px;z-index:10" width="14" height="21" viewBox="0 0 14 21">
 <path d="M1 1 L1 17 L4.8 13.4 L7.6 19.6 L10 18.6 L7.3 12.5 L12.4 12.5 Z" fill="#fff" stroke="#555" stroke-width="1.1" stroke-linejoin="round"/>
</svg>
</body></html>
